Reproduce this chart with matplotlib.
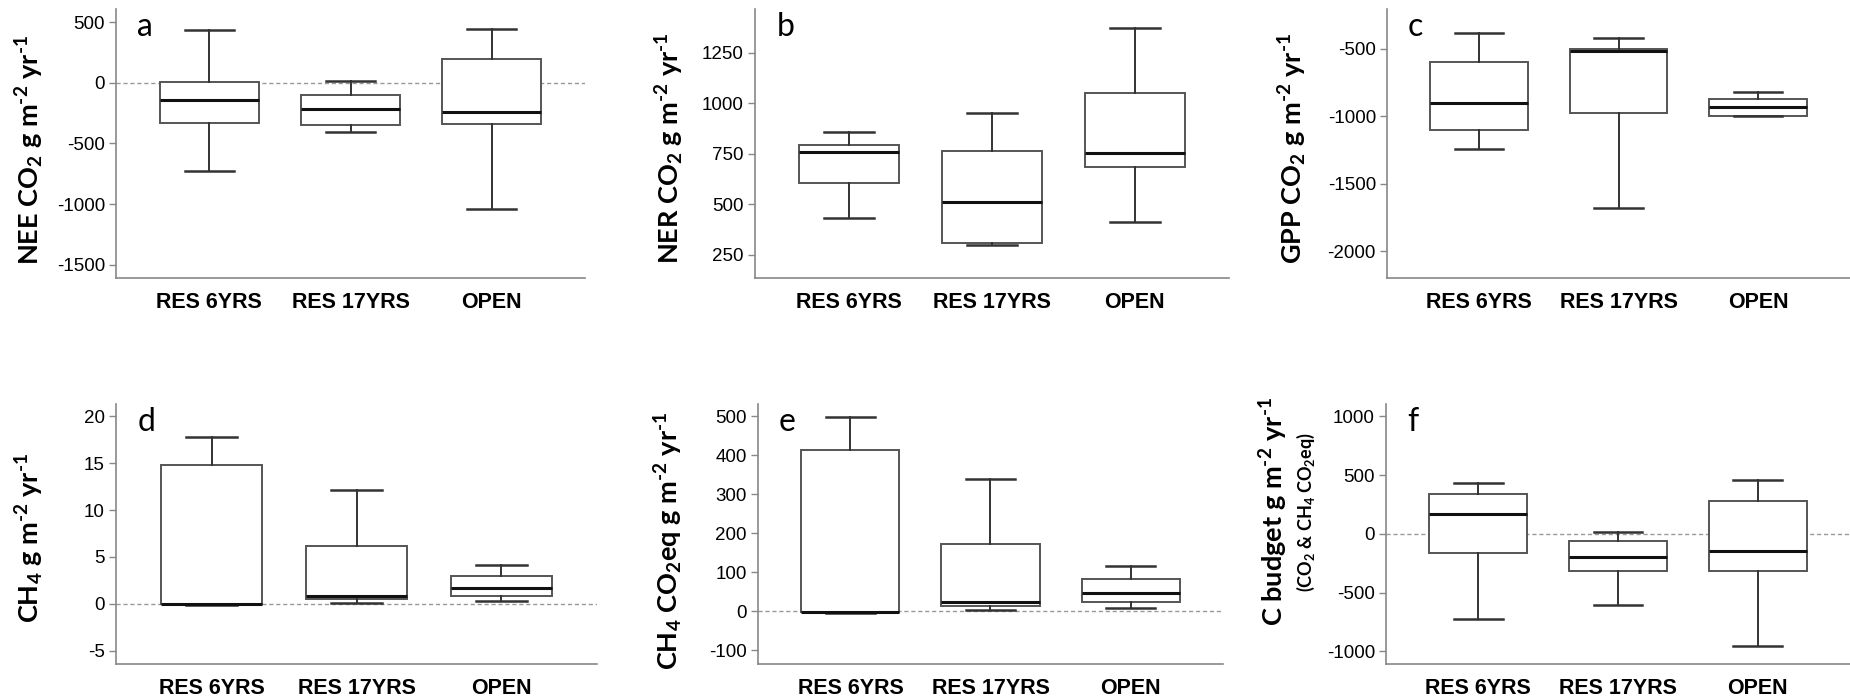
#! /usr/bin/env python3
import matplotlib
matplotlib.use('Agg')
import matplotlib.pyplot as plt

plt.rcParams['font.family'] = ['Liberation Sans', 'DejaVu Sans']
plt.rcParams['axes.unicode_minus'] = False
plt.rcParams['mathtext.fontset'] = 'custom'
plt.rcParams['mathtext.rm'] = 'Lato:bold'
plt.rcParams['mathtext.it'] = 'Lato:bold'
plt.rcParams['mathtext.bf'] = 'Lato:bold'

cats = ['RES 6YRS', 'RES 17YRS', 'OPEN']

# whisker low, q1, median, q3, whisker high for each site
nee_lo = [-727, -403, -1039]
nee_q1 = [-329, -345, -337]
nee_med = [-144, -215, -243]
nee_q3 = [5, -99, 193]
nee_hi = [436, 14, 445]

ner_lo = [432, 300, 412]
ner_q1 = [604, 311, 682]
ner_med = [760, 513, 753]
ner_q3 = [791, 765, 1051]
ner_hi = [858, 950, 1369]

gpp_lo = [-1245, -1681, -1000]
gpp_q1 = [-1104, -980, -998]
gpp_med = [-906, -517, -931]
gpp_q3 = [-599, -507, -871]
gpp_hi = [-389, -426, -819]

ch4_lo = [-0.1, 0.14, 0.32]
ch4_q1 = [-0.05, 0.57, 0.85]
ch4_med = [0.0, 0.82, 1.67]
ch4_q3 = [14.75, 6.13, 2.98]
ch4_hi = [17.8, 12.1, 4.18]

ch4eq_lo = [-3, 3, 8]
ch4eq_q1 = [-1, 15, 24]
ch4eq_med = [-1, 24, 47]
ch4eq_q3 = [414, 172, 83]
ch4eq_hi = [499, 340, 117]

cb_lo = [-726, -609, -957]
cb_q1 = [-164, -320, -312]
cb_med = [172, -198, -150]
cb_q3 = [342, -58, 278]
cb_hi = [431, 19, 459]

panels = [
    ('a', (nee_lo, nee_q1, nee_med, nee_q3, nee_hi), (-1610, 608),
     [500, 0, -500, -1000, -1500], True),
    ('b', (ner_lo, ner_q1, ner_med, ner_q3, ner_hi), (136, 1465),
     [250, 500, 750, 1000, 1250], False),
    ('c', (gpp_lo, gpp_q1, gpp_med, gpp_q3, gpp_hi), (-2196, -208),
     [-500, -1000, -1500, -2000], False),
    ('d', (ch4_lo, ch4_q1, ch4_med, ch4_q3, ch4_hi), (-6.4, 21.3),
     [20, 15, 10, 5, 0, -5], True),
    ('e', (ch4eq_lo, ch4eq_q1, ch4eq_med, ch4eq_q3, ch4eq_hi), (-135, 532),
     [500, 400, 300, 200, 100, 0, -100], True),
    ('f', (cb_lo, cb_q1, cb_med, cb_q3, cb_hi), (-1107, 1104),
     [1000, 500, 0, -500, -1000], True),
]

W, H = 1850, 697
# axes boxes in pixels: left, top, width, height
boxes = [(116, 9, 469, 269), (755, 9, 474, 269), (1387, 9, 463, 269),
         (116, 404, 481, 260), (758, 404, 465, 260), (1386, 404, 464, 260)]

fig = plt.figure(figsize=(W/100, H/100), dpi=100)

for (letter, st, ylim, ticks, zero), (l, t, w, h) in zip(panels, boxes):
    ax = fig.add_axes([l/W, 1 - (t + h)/H, w/W, h/H])
    stats = [dict(whislo=st[0][i], q1=st[1][i], med=st[2][i],
                  q3=st[3][i], whishi=st[4][i], fliers=[])
             for i in range(len(cats))]
    if zero:
        ax.axhline(0, color='#999999', ls=(0, (3, 2)), lw=1, zorder=0)
    ax.bxp(stats, positions=range(len(cats)), widths=0.7,
           showfliers=False, patch_artist=True,
           boxprops=dict(facecolor='white', edgecolor='#555555', lw=1.4),
           whiskerprops=dict(color='#333333', lw=1.4),
           capprops=dict(color='#333333', lw=1.8),
           medianprops=dict(color='#111111', lw=2.2),
           capwidths=0.35)
    ax.set_xlim(-0.66, 2.66)
    ax.set_ylim(*ylim)
    ax.set_yticks(ticks)
    ax.set_xticks(range(len(cats)))
    ax.set_xticklabels(cats, fontsize=15.5, fontweight='bold')
    ax.tick_params(axis='x', length=0, pad=10)
    ax.tick_params(axis='y', length=5, color='#888888', labelsize=13.5,
                   pad=3, width=1)
    for s in ['top', 'right']:
        ax.spines[s].set_visible(False)
    for s in ['left', 'bottom']:
        ax.spines[s].set_color('#888888')
        ax.spines[s].set_linewidth(1.2)
    ax.text(0.045, 0.99, letter, transform=ax.transAxes, fontsize=23,
            family='Lato', va='top', ha='left')

lab_kw = dict(rotation=90, ha='center', va='center', fontsize=19.5,
              family='Lato', fontweight='bold')
fig.text(30/W, 1 - 150/H,
         r'NEE CO$_{2}$ g m$^{\text{-2}}$ yr$^{\text{-1}}$', **lab_kw)
fig.text(670/W, 1 - 148/H,
         r'NER CO$_{2}$ g m$^{\text{-2}}$ yr$^{\text{-1}}$', **lab_kw)
fig.text(1293/W, 1 - 148/H,
         r'GPP CO$_{2}$ g m$^{\text{-2}}$ yr$^{\text{-1}}$', **lab_kw)
fig.text(30/W, 1 - 538/H,
         r'CH$_{4}$ g m$^{\text{-2}}$ yr$^{\text{-1}}$', **lab_kw)
fig.text(669/W, 1 - 541/H,
         r'CH$_{4}$ CO$_{2}$eq g m$^{\text{-2}}$ yr$^{\text{-1}}$', **lab_kw)
fig.text(1274/W, 1 - 512/H,
         r'C budget g m$^{\text{-2}}$ yr$^{\text{-1}}$', **lab_kw)
fig.text(1306/W, 1 - 512/H,
         r'(CO$_{2}$ & CH$_{4}$ CO$_{2}$eq)',
         rotation=90, ha='center', va='center', fontsize=13,
         family='Lato', fontweight='bold')

fig.savefig('out.png', dpi=100)
